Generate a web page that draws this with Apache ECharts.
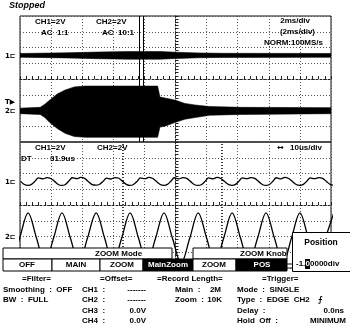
<!DOCTYPE html>
<html><head><meta charset="utf-8">
<script src="https://cdn.jsdelivr.net/npm/echarts@6/dist/echarts.min.js"></script>
<style>html,body{margin:0;padding:0;background:#fff}#c{width:350px;height:327px}</style>
</head><body><div id="c"></div>
<script>
// ---- Main (top) panel, 2 ms/div : time in ms, amplitude in divisions ----
const ch1TopT  = [-10, -7, -5, -3, -1, 0, 1.5, 3, 10];
const ch1TopHi = [1.62, 1.66, 1.71, 1.74, 1.74, 1.70, 1.65, 1.63, 1.62];
const ch1TopLo = [1.38, 1.34, 1.29, 1.26, 1.26, 1.30, 1.35, 1.37, 1.38];

const ch2TopT  = [-10, -8.7, -8.4, -8.1, -7.6, -7.1, -6.5, -5.8, -4.9, -1.15, -1.0, -0.7, 0, 0.6, 1.25, 2.2, 4.2, 10];
const ch2TopHi = [-1.85, -1.8, -1.6, -1.35, -0.95, -0.7, -0.5, -0.45, -0.45, -0.45, -1.15, -1.2, -1.35, -1.55, -1.65, -1.75, -1.8, -1.82];
const ch2TopLo = [-2.2, -2.25, -2.45, -2.75, -3.15, -3.45, -3.65, -3.7, -3.7, -3.7, -3.05, -3.0, -2.75, -2.55, -2.45, -2.3, -2.25, -2.2];

const zoomMarkMs = [-2.3, -2.1];

// ---- Zoom panel, 10 us/div : time in us, amplitude in divisions ----
const ch1ZoomT = [-49.8,-48.6,
 -47.4,-46.3,-45.2,-44.1,-42.6,-41.4,-40.1,-38.9,-37.7,
 -36.5,-35.4,-34.3,-33.2,-31.7,-30.5,-29.2,-28.0,-26.8,
 -25.5,-24.4,-23.3,-22.2,-20.7,-19.5,-18.2,-17.0,-15.8,
 -14.6,-13.5,-12.4,-11.3,-9.8,-8.6,-7.3,-6.1,-4.9,
 -3.7,-2.6,-1.5,-0.4,1.1,2.3,3.6,4.8,6.0,
 7.3,8.4,9.5,10.6,12.1,13.3,14.6,15.8,17.0,
 18.2,19.3,20.4,21.5,23.0,24.2,25.5,26.7,27.9,
 29.1,30.2,31.3,32.4,33.9,35.1,36.4,37.6,38.8,
 40.0,41.1,42.2,43.3,44.8,46.0,47.3,48.5,49.7,50.9];
const ch1ZoomV = [1.50,1.30,
 1.25,1.31,1.50,1.72,1.66,1.74,1.68,1.50,1.30,
 1.24,1.30,1.52,1.73,1.67,1.75,1.69,1.48,1.29,
 1.26,1.32,1.50,1.71,1.65,1.74,1.70,1.50,1.31,
 1.24,1.30,1.49,1.72,1.67,1.75,1.68,1.49,1.30,
 1.25,1.31,1.51,1.73,1.66,1.74,1.69,1.50,1.30,
 1.24,1.30,1.50,1.72,1.66,1.75,1.68,1.49,1.31,
 1.25,1.31,1.51,1.72,1.67,1.74,1.69,1.50,1.30,
 1.24,1.30,1.50,1.73,1.66,1.75,1.68,1.49,1.30,
 1.25,1.31,1.50,1.72,1.67,1.74,1.69,1.50,1.31,1.25];

const ch2ZoomT = [-52.8,-50.1,-47.4,-44.7,-42.0,-39.2,-36.5,-33.8,-31.0,-28.3,-25.5,-22.8,-20.1,-17.3,-14.6,-11.9,-9.2,-6.4,-3.7,-1.0,1.8,4.6,7.3,10.0,12.7,15.5,18.2,20.9,23.6,26.4,29.1,31.8,34.6,37.3,40.0,42.7,45.5,48.2,50.9];
const ch2ZoomV = [-3.7,-2.1,-0.5,-2.1,-3.7,-2.1,-0.5,-2.1,-3.7,-2.1,-0.5,-2.1,-3.7,-2.1,-0.5,-2.1,-3.7,-2.1,-0.5,-2.1,-3.7,-2.1,-0.5,-2.1,-3.7,-2.1,-0.5,-2.1,-3.7,-2.1,-0.5,-2.1,-3.7,-2.1,-0.5,-2.1,-3.7,-2.1,-0.5];

const cursorUs = [-16.9, 15.0];

// ---------------------------------------------------------------
const FONT = '"Liberation Sans", Arial, sans-serif';
const chart = echarts.init(document.getElementById('c'), null, {renderer: 'canvas'});

function gratX(gi, min, max, interval) {
  return {
    gridIndex: gi, type: 'value', min: min, max: max, interval: interval,
    axisLabel: {show: false},
    axisLine: {show: true, onZero: true, lineStyle: {color: '#222', width: 1, type: [2, 2]}},
    axisTick: {show: true, inside: true, length: 3, lineStyle: {color: '#222'}},
    minorTick: {show: true, splitNumber: 5, length: 3, lineStyle: {color: '#222'}},
    splitLine: {show: true, lineStyle: {color: '#555', width: 1, type: [1, 2]}}
  };
}
function gratY(gi) {
  return {
    gridIndex: gi, type: 'value', min: -4, max: 4, interval: 1,
    axisLabel: {show: false},
    axisLine: {show: true, onZero: true, lineStyle: {color: '#222', width: 1, type: [2, 2]}},
    axisTick: {show: true, inside: true, length: 3, lineStyle: {color: '#222'}},
    minorTick: {show: true, splitNumber: 5, length: 3, lineStyle: {color: '#222'}},
    splitLine: {show: true, lineStyle: {color: '#555', width: 1, type: [1, 2]}}
  };
}
function band(t, hi, lo, gi) {
  return {
    type: 'custom', xAxisIndex: gi, yAxisIndex: gi, clip: true, z: 5,
    data: [[t[0], hi[0]]], encode: {x: 0, y: 1},
    renderItem: function (params, api) {
      const pts = [];
      for (let i = 0; i < t.length; i++) pts.push(api.coord([t[i], hi[i]]));
      for (let i = t.length - 1; i >= 0; i--) pts.push(api.coord([t[i], lo[i]]));
      return {type: 'polygon', shape: {points: pts}, style: {fill: '#000', stroke: '#000', lineWidth: 0.6}};
    }
  };
}
function zip(a, b) { return a.map((v, i) => [v, b[i]]); }

function txt(x, y, s, opt) {
  opt = opt || {};
  return {type: 'text', x: x, y: y, z: 100,
    style: {text: s, fill: opt.fill || '#000', align: opt.align || 'left', verticalAlign: 'middle',
      font: (opt.style || '') + ' ' + (opt.weight || 'bold') + ' ' + (opt.size || 8) + 'px ' + (opt.family || FONT)}};
}
function box(x, y, w, h, fill) {
  return {type: 'rect', z: 90, shape: {x: x, y: y, width: w, height: h},
    style: {fill: fill || '#fff', stroke: '#000', lineWidth: 1}};
}

const graphics = [
  txt(9, 6, 'Stopped', {style: 'italic', size: 9}),
  // main panel header
  txt(35, 22, 'CH1=2V'), txt(41, 33, 'AC  1:1'),
  txt(96, 22, 'CH2=2V'), txt(102, 33, 'AC  10:1'),
  txt(310, 21, '2ms/div', {align: 'right'}), txt(315, 32, '(2ms/div)', {align: 'right'}),
  txt(323, 43, 'NORM:100MS/s', {align: 'right'}),
  // channel markers
  txt(5, 56, '1⊏', {size: 7, family: '"DejaVu Sans"'}), txt(5, 102, 'T▶', {size: 7, family: '"DejaVu Sans"'}),
  txt(5, 111, '2⊏', {size: 7, family: '"DejaVu Sans"'}),
  txt(5, 182, '1⊏', {size: 7, family: '"DejaVu Sans"'}), txt(5, 237, '2⊏', {size: 7, family: '"DejaVu Sans"'}),
  // zoom panel header
  txt(35, 148, 'CH1=2V'), txt(97, 148, 'CH2=2V'),
  txt(284, 148, '↔', {align: 'right', size: 8, family: '"DejaVu Sans"'}),
  txt(322, 148, '10us/div', {align: 'right'}),
  txt(21, 159, 'DT'), txt(50, 159, '31.9us'),
  // soft-key menu
  box(3, 248, 169, 11), txt(95, 253.5, 'ZOOM Mode'),
  box(193, 248, 94, 11), txt(240, 253.5, 'ZOOM Knob'),
  box(3, 259, 49, 12), txt(27, 265, 'OFF', {align: 'center'}),
  box(52, 259, 48, 12), txt(76, 265, 'MAIN', {align: 'center'}),
  box(100, 259, 43, 12), txt(122, 265, 'ZOOM', {align: 'center'}),
  box(143, 259, 50, 12, '#000'), txt(168, 265, 'MainZoom', {align: 'center', fill: '#fff'}),
  box(193, 259, 43, 12), txt(214, 265, 'ZOOM', {align: 'center'}),
  box(236, 259, 51, 12, '#000'), txt(262, 265, 'POS', {align: 'center', fill: '#fff'}),
  {type: 'line', z: 90, shape: {x1: 287, y1: 264, x2: 293, y2: 264}, style: {stroke: '#000', lineWidth: 1}},
  box(292.5, 232.5, 60, 39), txt(321, 243, 'Position', {align: 'center', size: 8.5}),
  {type: 'rect', z: 95, shape: {x: 305, y: 259, width: 5, height: 10}, style: {fill: '#000'}},
  txt(296, 264, '-1.', {size: 8}),
  txt(305.5, 264, '0', {size: 8, fill: '#fff'}),
  txt(310, 264, '0000div', {size: 8}),
  // settings text
  txt(22, 279, '=Filter='),
  txt(3, 289.5, 'Smoothing  :  OFF'),
  txt(3, 300, 'BW  :  FULL'),
  txt(100, 279, '=Offset='),
  txt(82, 289.5, 'CH1  :'), txt(146, 289.5, '-------', {align: 'right'}),
  txt(82, 300, 'CH2  :'), txt(146, 300, '-------', {align: 'right'}),
  txt(82, 310.5, 'CH3  :'), txt(146, 310.5, '0.0V', {align: 'right'}),
  txt(82, 321, 'CH4  :'), txt(146, 321, '0.0V', {align: 'right'}),
  txt(157, 279, '=Record Length='),
  txt(175, 289.5, 'Main  :'), txt(221, 289.5, '2M', {align: 'right'}),
  txt(175, 300, 'Zoom  :'), txt(222, 300, '10K', {align: 'right'}),
  txt(262, 279, '=Trigger='),
  txt(237, 289.5, 'Mode  :  SINGLE'),
  txt(237, 300, 'Type  :  EDGE  CH2'),
  txt(318, 300, '⨍', {size: 8, family: '"DejaVu Sans"'}),
  txt(237, 310.5, 'Delay  :'), txt(344, 310.5, '0.0ns', {align: 'right'}),
  txt(237, 321, 'Hold  Off  :'), txt(346, 321, 'MINIMUM', {align: 'right'})
];

const option = {
  backgroundColor: '#fff',
  animation: false,
  grid: [
    {left: 20, top: 16, width: 311, height: 126, show: true, borderColor: '#111', borderWidth: 1, backgroundColor: 'transparent'},
    {left: 20, top: 142, width: 311, height: 126, show: true, borderColor: '#111', borderWidth: 1, backgroundColor: 'transparent'}
  ],
  xAxis: [gratX(0, -10, 10, 2), gratX(1, -50, 50, 10)],
  yAxis: [gratY(0), gratY(1)],
  series: [
    band(ch1TopT, ch1TopHi, ch1TopLo, 0),
    band(ch2TopT, ch2TopHi, ch2TopLo, 0),
    {type: 'line', xAxisIndex: 0, yAxisIndex: 0, data: [], silent: true,
     markLine: {symbol: 'none', silent: true, label: {show: false},
       lineStyle: {color: '#000', type: 'solid', width: 1},
       data: zoomMarkMs.map(v => ({xAxis: v}))}},
    {type: 'line', xAxisIndex: 1, yAxisIndex: 1, data: zip(ch1ZoomT, ch1ZoomV), smooth: 0.3,
     showSymbol: false, clip: true, lineStyle: {color: '#000', width: 1.3}, z: 5,
     markLine: {symbol: 'none', silent: true, label: {show: false},
       lineStyle: {color: '#000', type: [1, 2], width: 1.5},
       data: cursorUs.map(v => ({xAxis: v}))}},
    {type: 'line', xAxisIndex: 1, yAxisIndex: 1, data: zip(ch2ZoomT, ch2ZoomV), smooth: 0.35,
     showSymbol: false, clip: true, lineStyle: {color: '#000', width: 1.3}, z: 5}
  ],
  graphic: graphics
};
chart.setOption(option);
</script></body></html>
